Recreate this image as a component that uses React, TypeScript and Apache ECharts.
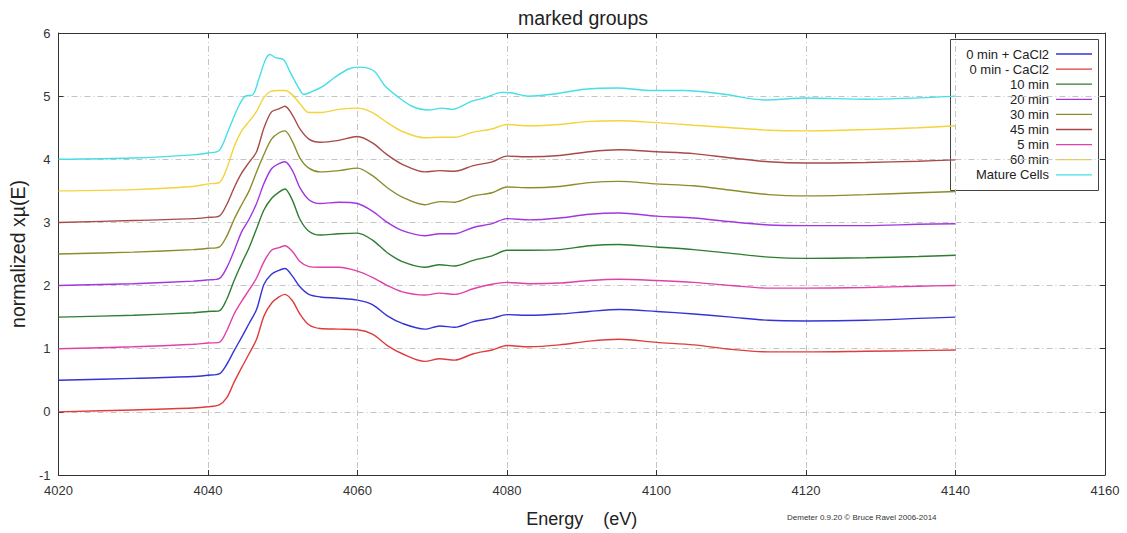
import React, { useEffect, useRef } from "react";
import * as echarts from "echarts";

const energy = [4020, 4030, 4038, 4040, 4041.5, 4042.5, 4043.5, 4044.5, 4045.5, 4046.5, 4047.5, 4048.5, 4049.5, 4050.3, 4051.3, 4052.3, 4053.5, 4055, 4057.5, 4060, 4062, 4064, 4066, 4069, 4071, 4073, 4075.5, 4078, 4080, 4083, 4087, 4091, 4095, 4100, 4105, 4110, 4115, 4120, 4128, 4135, 4140];

const min0PlusCaCl2 = [0.50, 0.53, 0.56, 0.58, 0.60, 0.75, 0.97, 1.18, 1.40, 1.62, 2.02, 2.18, 2.24, 2.27, 2.15, 1.98, 1.86, 1.82, 1.80, 1.77, 1.70, 1.52, 1.40, 1.31, 1.36, 1.34, 1.43, 1.48, 1.54, 1.53, 1.55, 1.59, 1.62, 1.59, 1.55, 1.50, 1.45, 1.44, 1.45, 1.48, 1.50];
const min0MinusCaCl2 = [0.00, 0.03, 0.06, 0.08, 0.11, 0.22, 0.47, 0.70, 0.92, 1.15, 1.52, 1.72, 1.82, 1.86, 1.76, 1.55, 1.38, 1.32, 1.31, 1.30, 1.23, 1.05, 0.92, 0.80, 0.84, 0.82, 0.92, 0.98, 1.05, 1.03, 1.06, 1.12, 1.15, 1.10, 1.06, 0.99, 0.95, 0.95, 0.96, 0.97, 0.98];
const min10 = [1.50, 1.53, 1.57, 1.59, 1.60, 1.78, 2.08, 2.35, 2.60, 2.90, 3.20, 3.38, 3.48, 3.53, 3.35, 3.05, 2.86, 2.80, 2.82, 2.83, 2.72, 2.52, 2.38, 2.29, 2.33, 2.31, 2.40, 2.47, 2.56, 2.56, 2.57, 2.63, 2.65, 2.61, 2.57, 2.51, 2.45, 2.43, 2.44, 2.46, 2.48];
const min20 = [2.00, 2.03, 2.07, 2.09, 2.11, 2.28, 2.55, 2.85, 3.05, 3.30, 3.62, 3.85, 3.93, 3.96, 3.82, 3.55, 3.36, 3.30, 3.32, 3.30, 3.18, 3.00, 2.87, 2.79, 2.82, 2.82, 2.92, 2.98, 3.06, 3.04, 3.07, 3.13, 3.15, 3.10, 3.07, 3.01, 2.96, 2.95, 2.95, 2.97, 2.98];
const min30 = [2.50, 2.53, 2.57, 2.59, 2.61, 2.78, 3.05, 3.28, 3.50, 3.80, 4.08, 4.32, 4.42, 4.45, 4.28, 4.02, 3.86, 3.80, 3.82, 3.86, 3.74, 3.55, 3.40, 3.28, 3.33, 3.32, 3.42, 3.47, 3.56, 3.55, 3.57, 3.63, 3.65, 3.61, 3.58, 3.51, 3.44, 3.42, 3.44, 3.47, 3.49];
const min45 = [3.00, 3.03, 3.06, 3.08, 3.10, 3.28, 3.55, 3.78, 3.95, 4.12, 4.50, 4.75, 4.80, 4.84, 4.70, 4.48, 4.32, 4.27, 4.30, 4.36, 4.26, 4.07, 3.92, 3.80, 3.82, 3.81, 3.90, 3.96, 4.05, 4.04, 4.06, 4.12, 4.15, 4.12, 4.09, 4.02, 3.96, 3.94, 3.95, 3.97, 3.99];
const min5 = [1.00, 1.03, 1.07, 1.09, 1.10, 1.28, 1.55, 1.75, 1.93, 2.12, 2.38, 2.56, 2.60, 2.63, 2.54, 2.38, 2.30, 2.29, 2.29, 2.23, 2.13, 2.00, 1.90, 1.85, 1.88, 1.86, 1.95, 2.02, 2.05, 2.03, 2.04, 2.08, 2.10, 2.08, 2.05, 2.00, 1.96, 1.96, 1.97, 1.99, 2.00];
const min60 = [3.50, 3.52, 3.57, 3.61, 3.63, 3.85, 4.20, 4.45, 4.60, 4.76, 4.98, 5.08, 5.09, 5.09, 5.02, 4.88, 4.74, 4.74, 4.79, 4.81, 4.74, 4.58, 4.44, 4.34, 4.35, 4.35, 4.43, 4.48, 4.55, 4.53, 4.55, 4.60, 4.61, 4.58, 4.54, 4.50, 4.46, 4.45, 4.47, 4.50, 4.53];

const matureEnergy = [4020, 4030, 4038, 4040, 4041.5, 4042.8, 4044.1, 4045, 4046, 4046.8, 4047.7, 4048.3, 4049, 4050.1, 4051, 4052, 4052.8, 4053.5, 4055.3, 4057, 4058.8, 4060.1, 4061.5, 4062.4, 4063.7, 4065.5, 4067.3, 4069.5, 4071.3, 4072.7, 4075.3, 4077, 4079.3, 4080.7, 4082.8, 4086, 4090.4, 4094.8, 4099.3, 4103.7, 4109, 4114.4, 4120, 4128, 4140];
const matureCells = [4.00, 4.02, 4.07, 4.10, 4.14, 4.48, 4.84, 5.00, 5.02, 5.27, 5.58, 5.66, 5.61, 5.58, 5.38, 5.16, 5.03, 5.05, 5.15, 5.30, 5.43, 5.46, 5.44, 5.38, 5.16, 4.98, 4.84, 4.78, 4.81, 4.79, 4.92, 4.97, 5.06, 5.05, 5.00, 5.03, 5.11, 5.13, 5.09, 5.09, 5.03, 4.94, 4.97, 4.95, 5.00];

const seriesNames = ["0 min + CaCl2", "0 min - CaCl2", "10 min", "20 min", "30 min", "45 min", "5 min", "60 min", "Mature Cells"];
const seriesColors = ["#3434d6", "#e03c3c", "#2e7d32", "#a236e0", "#8c8c2c", "#a84a4a", "#e040a8", "#f4d43a", "#44e0e6"];
const seriesEnergy = [energy, energy, energy, energy, energy, energy, energy, energy, matureEnergy];
const seriesValues = [min0PlusCaCl2, min0MinusCaCl2, min10, min20, min30, min45, min5, min60, matureCells];

const xTicks = { min: 4020, max: 4160, interval: 20 };
const yTicks = { min: -1, max: 6, interval: 1 };

const FONT = "'Liberation Sans', Arial, sans-serif";

export default function App() {
  const ref = useRef<HTMLDivElement>(null);

  useEffect(() => {
    if (!ref.current) return;
    const chart = echarts.init(ref.current, null, { renderer: "svg" });

    const gridLine = { show: true, lineStyle: { color: "#c4c4c4", width: 1, type: [6, 3, 1, 3] as any } };
    const axisLine = { show: true, onZero: false, lineStyle: { color: "#333", width: 1 } };
    const tick = { show: true, inside: true, length: 5, lineStyle: { color: "#333" } };

    const legendTop = 54;
    const legendStep = 15.1;
    const legendChildren: any[] = [
      {
        type: "rect",
        shape: { x: 950.5, y: 39.5, width: 148, height: 151 },
        style: { fill: "#fff", stroke: "#444", lineWidth: 1 },
      },
    ];
    seriesNames.forEach((name, i) => {
      const y = legendTop + i * legendStep;
      legendChildren.push({
        type: "text",
        x: 1049,
        y,
        style: { text: name, fill: "#222", font: `13px ${FONT}`, textAlign: "right", textVerticalAlign: "middle" },
      });
      legendChildren.push({
        type: "line",
        shape: { x1: 1056, y1: y, x2: 1092, y2: y },
        style: { stroke: seriesColors[i], lineWidth: 1.3 },
      });
    });

    chart.setOption({
      animation: false,
      backgroundColor: "#fff",
      title: {
        text: "marked groups",
        left: 578,
        top: 3,
        textAlign: "center",
        textStyle: { fontFamily: FONT, fontSize: 19.5, fontWeight: "normal", color: "#222" },
      },
      grid: { left: 51, top: 33, width: 1054, height: 444, containLabel: false },
      xAxis: [
        {
          type: "value",
          position: "bottom",
          ...xTicks,
          axisLine,
          axisTick: tick,
          axisLabel: { color: "#333", fontSize: 13, margin: 9, fontFamily: FONT, formatter: (v: number) => String(v) },
          splitLine: gridLine,
          name: "Energy    (eV)",
          nameLocation: "middle",
          nameGap: 35,
          nameTextStyle: { fontFamily: FONT, fontSize: 18, color: "#222" },
        },
        {
          type: "value",
          position: "top",
          ...xTicks,
          axisLine,
          axisTick: tick,
          axisLabel: { show: false },
          splitLine: { show: false },
        },
      ],
      yAxis: [
        {
          type: "value",
          position: "left",
          ...yTicks,
          axisLine,
          axisTick: tick,
          axisLabel: { color: "#333", fontSize: 13, margin: 8, fontFamily: FONT },
          splitLine: gridLine,
          name: "normalized xµ(E)",
          nameLocation: "middle",
          nameGap: 22,
          nameTextStyle: { fontFamily: FONT, fontSize: 19.5, color: "#222" },
        },
        {
          type: "value",
          position: "right",
          ...yTicks,
          axisLine,
          axisTick: tick,
          axisLabel: { show: false },
          splitLine: { show: false },
        },
      ],
      series: seriesNames.map((name, i) => ({
        name,
        type: "line",
        xAxisIndex: 0,
        yAxisIndex: 0,
        showSymbol: false,
        smooth: 0.3,
        lineStyle: { color: seriesColors[i], width: 1.4 },
        itemStyle: { color: seriesColors[i] },
        data: seriesEnergy[i].map((e, k) => [e, seriesValues[i][k]]),
      })),
      graphic: [
        ...legendChildren,
        {
          type: "text",
          x: 787,
          y: 517,
          style: { text: "Demeter 0.9.20 © Bruce Ravel 2006-2014", fill: "#333", font: `8px ${FONT}`, textVerticalAlign: "middle" },
        },
      ],
    });

    return () => chart.dispose();
  }, []);

  return <div ref={ref} style={{ position: "fixed", left: 0, top: 0, width: 1127, height: 533 }} />;
}
